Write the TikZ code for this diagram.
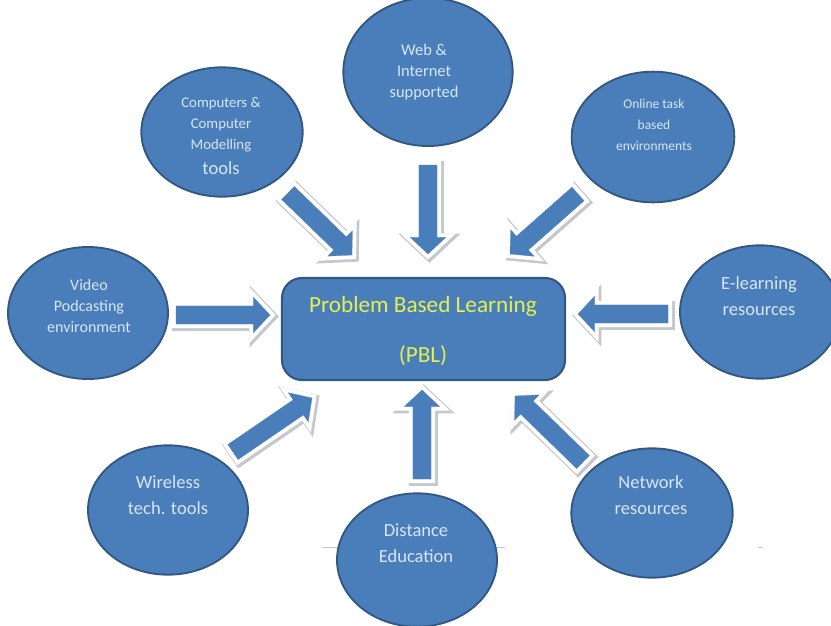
\documentclass[tikz,border=0pt]{standalone}
\usepackage{fontspec}
\setmainfont{Carlito}
\usetikzlibrary{calc,shapes.geometric}
\definecolor{pblue}{HTML}{4A7EBB}
\definecolor{pedge}{HTML}{33587F}
\definecolor{ptext}{HTML}{D6E6F5}
\definecolor{pyellow}{HTML}{E4F04E}
\definecolor{pshade}{HTML}{C4C7CD}
\tikzset{
  x=0.75pt,y=-0.75pt,
  blob/.style={ellipse,draw=pedge,line width=1.4pt,fill=pblue,minimum width=#1,inner sep=0pt},
  bubbletext/.style={text=ptext,font=\fontsize{#1}{15.8pt}\selectfont,align=center},
  largetext/.style={text=ptext,font=\fontsize{13.9pt}{19.5pt}\selectfont,align=center},
  corebox/.style={draw=pedge,line width=1.6pt,fill=pblue,rounded corners=15pt},
  corelabel/.style={text=pyellow,font=\fontsize{17.4pt}{20pt}\selectfont},
  arrowshade/.style={draw=pshade,line width=8pt,miter limit=10,transform canvas={shift={(1.1pt,-1.1pt)}}},
  arrowhalo/.style={draw=white,line width=6.2pt,miter limit=10},
  arrowbody/.style={fill=pblue,draw=pblue,line width=.2pt},
  faint/.style={draw=black!22,line width=.4pt},
}
\newcommand{\arrowoutline}[3]{%
 ($(#1)!6.8pt!90:(#2)$) -- ($(#3)!6.8pt!90:(#2)$) -- ($(#3)!13.2pt!90:(#2)$) -- (#2) --
 ($(#3)!13.2pt!-90:(#2)$) -- ($(#3)!6.8pt!-90:(#2)$) -- ($(#1)!6.8pt!-90:(#2)$) -- cycle}
\newcommand{\blockarrow}[3]{%
 \coordinate (#1) at (#2); \coordinate (#1t) at (#3);
 \coordinate (#1h) at ($(#1t)!12.4pt!(#1)$);
 \draw[arrowshade] \arrowoutline{#1}{#1t}{#1h};
 \draw[arrowhalo] \arrowoutline{#1}{#1t}{#1h};
 \draw[arrowbody] \arrowoutline{#1}{#1t}{#1h};}
\begin{document}
\begin{tikzpicture}
\useasboundingbox (0,0) rectangle (831,625);
\begin{scope}
\clip (0,0) rectangle (831,625);
\draw[faint] (322,547) -- (340,547);
\draw[faint] (494,547) -- (505,547);
\draw[faint] (758,547) -- (763,547);

\blockarrow{atl}{288,193}{352,255}
\blockarrow{atop}{428,165}{428,254}
\blockarrow{atr}{578,194}{510,254}
\blockarrow{aleft}{176,315}{270,315}
\blockarrow{aright}{668,314}{578,314}
\blockarrow{abl}{233,452}{312,398}
\blockarrow{abot}{422,479}{422,390}
\blockarrow{abr}{583,462}{515,396}

\node[blob=127pt,minimum height=111pt] (eTop) at (428,72) {};
\node[blob=121pt,minimum height=97pt] (eTL) at (222,132) {};
\node[blob=122pt,minimum height=98pt] (eTR) at (653,137) {};
\node[blob=120pt,minimum height=99pt] (eL) at (88,313) {};
\node[blob=120pt,minimum height=100pt] (eR) at (760,312) {};
\node[blob=120pt,minimum height=97pt] (eBL) at (168,510) {};
\node[blob=120pt,minimum height=100pt] (eB) at (417,560) {};
\node[blob=121pt,minimum height=97pt] (eBR) at (652,513) {};
\end{scope}

\draw[corebox] (282,278) rectangle (565,380);
\node[corelabel] (t1) at (423,306) {Problem Based Learning};
\node[corelabel] (t2) at (423,356) {(PBL)};

\node[bubbletext=12.3pt] (lTop) at (424,72) {Web \&\\Internet\\supported};
\node[bubbletext=11.1pt] (lTL) at (221,125) {Computers \&\\Computer\\Modelling};
\node[largetext] (lTL2) at (221,168) {tools};
\node[bubbletext=10.1pt] (lTR) at (654,125) {Online task\\based\\environments};
\node[bubbletext=12pt] (lL) at (89,306) {Video\\Podcasting\\environment};
\node[largetext] (lR) at (759,296) {E-learning\\resources};
\node[largetext] (lBL) at (168,495) {Wireless\\tech. tools};
\node[largetext] (lB) at (416,543) {Distance\\Education};
\node[largetext] (lBR) at (651,495) {Network\\resources};
\end{tikzpicture}
\end{document}
